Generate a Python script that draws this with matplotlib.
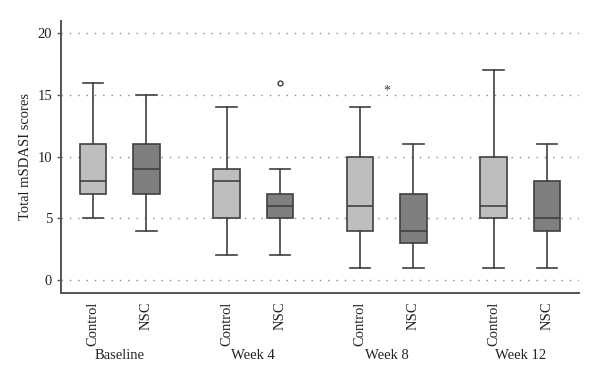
import matplotlib.pyplot as plt

# box plot summaries
groups = ["Baseline", "Week 4", "Week 8", "Week 12"]
arms = ["Control", "NSC"]
lo_whisk = [5, 4, 2, 2, 1, 1, 1, 1]
q1 = [7, 7, 5, 5, 4, 3, 5, 4]
med = [8, 9, 8, 6, 6, 4, 6, 5]
q3 = [11, 11, 9, 7, 10, 7, 10, 8]
hi_whisk = [16, 15, 14, 9, 14, 11, 17, 11]
outlier_x = [4.5]
outlier_y = [16]
star_x = [6.5]
star_y = [15.3]

positions = [1, 2, 3.5, 4.5, 6, 7, 8.5, 9.5]
colors = ["#bebebe", "#7f7f7f"] * 4

plt.rcParams['font.family'] = ['Liberation Serif', 'DejaVu Serif']

fig = plt.figure(figsize=(6, 3.8), dpi=100)
ax = fig.add_axes([0.1017, 0.229, 0.8633, 0.716])

edge = "#404040"
stats = []
for i in range(len(positions)):
    stats.append({"whislo": lo_whisk[i], "q1": q1[i], "med": med[i],
                  "q3": q3[i], "whishi": hi_whisk[i], "fliers": []})

bp = ax.bxp(stats, positions=positions, widths=0.5, patch_artist=True,
            showfliers=False, capwidths=0.38,
            boxprops=dict(edgecolor=edge, linewidth=1.2),
            medianprops=dict(color=edge, linewidth=1.2),
            whiskerprops=dict(color=edge, linewidth=1.2),
            capprops=dict(color=edge, linewidth=1.2))
for patch, c in zip(bp["boxes"], colors):
    patch.set_facecolor(c)
    patch.set_zorder(3)
for k in ["medians", "whiskers", "caps"]:
    for l in bp[k]:
        l.set_zorder(4)

ax.plot(outlier_x, outlier_y, "o", ms=3.5, mfc="white", mec=edge, mew=1.0, zorder=5)
for x, y in zip(star_x, star_y):
    ax.text(x, y, "*", ha="center", va="center", fontsize=10, color=edge)

ax.set_xlim(0.4, 10.1)
ax.set_ylim(-1.05, 21)
ax.set_yticks([0, 5, 10, 15, 20])
ax.yaxis.grid(True, linestyle=(0, (1, 5)), color="#888888", linewidth=1.0)
ax.set_axisbelow(True)

ax.set_xticks(positions)
ax.set_xticklabels(arms * 4, rotation=90, fontsize=10.5, color="#222222")
ax.tick_params(axis="x", length=0, pad=6)
ax.tick_params(axis="y", length=3, width=1, color="#555555", labelsize=10.5,
               labelcolor="#222222")
ax.set_ylabel("Total mSDASI scores", fontsize=10.5, color="#222222")

for s in ["top", "right"]:
    ax.spines[s].set_visible(False)
for s in ["left", "bottom"]:
    ax.spines[s].set_color("#555555")
    ax.spines[s].set_linewidth(1.4)

for g, name in enumerate(groups):
    xc = (positions[2 * g] + positions[2 * g + 1]) / 2
    ax.text(xc, -0.228, name, transform=ax.get_xaxis_transform(),
            ha="center", va="center", fontsize=10.5, color="#222222")

fig.savefig("out.png", dpi=100)
